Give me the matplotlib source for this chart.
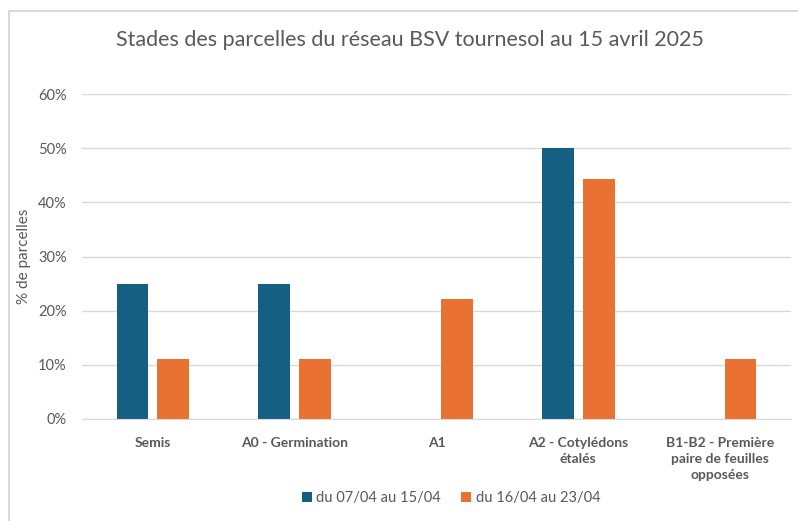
import numpy as np
import matplotlib.pyplot as plt
from matplotlib.patches import Rectangle
from matplotlib.ticker import PercentFormatter

# données
categories = ['Semis', 'A0 - Germination', 'A1', 'A2 - Cotylédons\nétalés',
              'B1-B2 - Première\npaire de feuilles\nopposées']
periode_1 = [25, 25, 0, 50, 0]
periode_2 = [11.1, 11.1, 22.2, 44.4, 11.1]
series_labels = ['du 07/04 au 15/04', 'du 16/04 au 23/04']
colors = ['#156082', '#E97132']

plt.rcParams['font.family'] = ['Lato', 'DejaVu Sans']
txt = '#595959'

fig = plt.figure(figsize=(7.98, 5.21), dpi=100)
ax = fig.add_axes([82 / 798, 1 - 419 / 521, (791 - 82) / 798, (419 - 94) / 521])

x = np.arange(len(categories))
w = 0.225
gap = 0.063
ax.bar(x - (w + gap) / 2, periode_1, width=w, color=colors[0], label=series_labels[0])
ax.bar(x + (w + gap) / 2, periode_2, width=w, color=colors[1], label=series_labels[1])

ax.set_xlim(-0.5, len(categories) - 0.5)
ax.set_ylim(0, 60)
ax.set_yticks(np.arange(0, 61, 10))
ax.yaxis.set_major_formatter(PercentFormatter(decimals=0))
ax.grid(axis='y', color='#D9D9D9', linewidth=1)
ax.set_axisbelow(True)
for s in ['top', 'right', 'left']:
    ax.spines[s].set_visible(False)
ax.spines['bottom'].set_color('#D9D9D9')
ax.tick_params(axis='both', length=0, colors=txt, labelsize=10.5)
ax.tick_params(axis='y', pad=11)
ax.tick_params(axis='x', pad=13)
ax.set_xticks(x)
ax.set_xticklabels(categories, fontweight='bold', fontsize=10, color=txt, linespacing=1.4)
ax.set_ylabel('% de parcelles', color=txt, fontsize=11, labelpad=5)

fig.text(410 / 798, 1 - 40 / 521, 'Stades des parcelles du réseau BSV tournesol au 15 avril 2025',
         ha='center', va='center', fontsize=15.5, color=txt)

fig.legend(loc='center', bbox_to_anchor=(451 / 798, 1 - 498 / 521), ncol=2, frameon=False,
           fontsize=10.5, labelcolor=txt, handlelength=0.7, handleheight=0.7,
           handletextpad=0.3, columnspacing=1.4)

# cadre du graphique
fig.patches.append(Rectangle((9 / 798, -0.05), 1.1, 1 - 11 / 521 + 0.05,
                             transform=fig.transFigure, fill=False,
                             edgecolor='#D9D9D9', linewidth=1.5))

fig.savefig('out.png', dpi=100)
